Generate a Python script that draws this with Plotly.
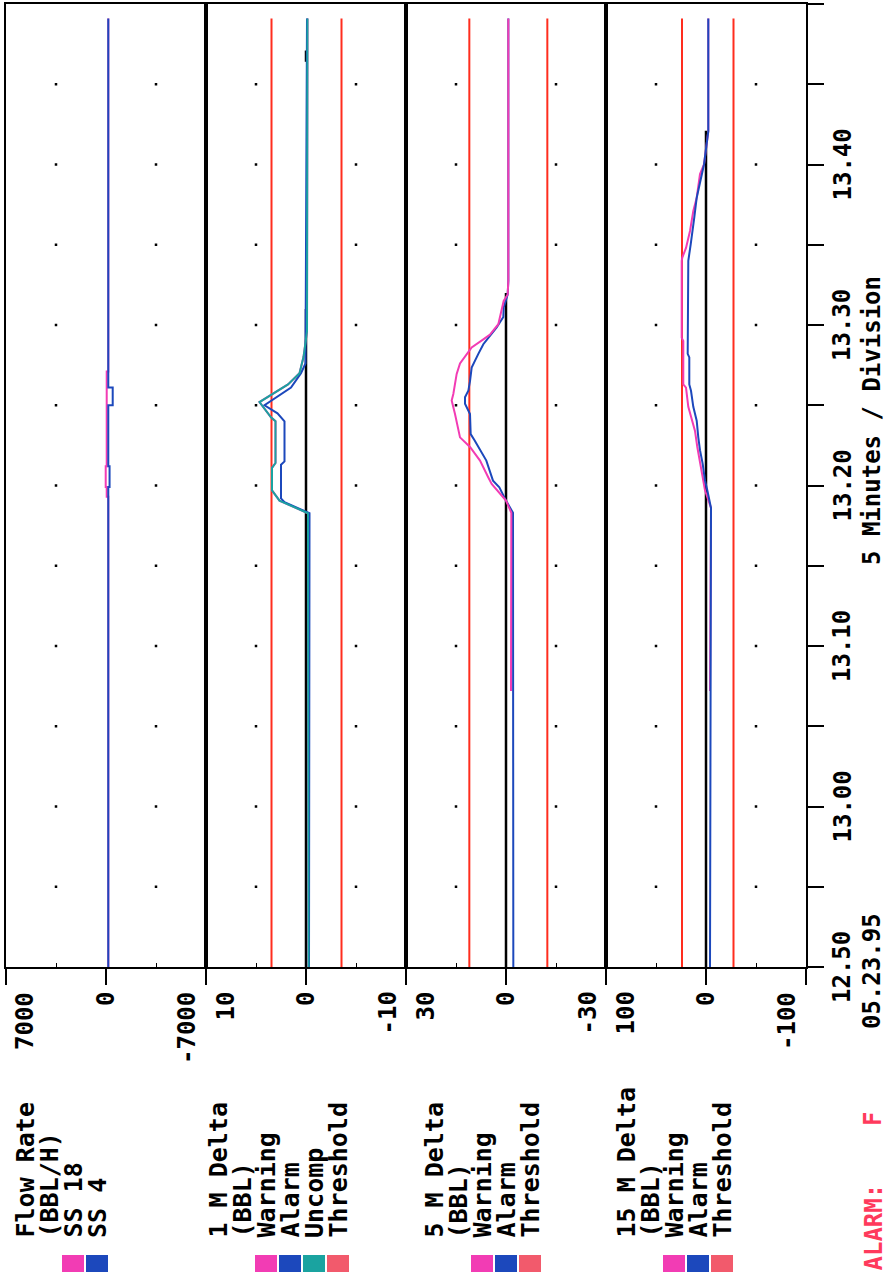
import plotly.graph_objects as go

# ---------------- data ----------------
# time axis: minutes after 12:50 (05.23.95), 5 minutes per division
TIME_TICKS = [0, 5, 10, 15, 20, 25, 30, 35, 40, 45, 50, 55, 60]
TIME_LABELS = ["12.50", "", "13.00", "", "13.10", "", "13.20", "", "13.30", "", "13.40", "", ""]
DATE_LABEL = "05.23.95"
DATA_END = 59.1

PANEL_MAX = [7000, 10, 30, 100]
VALUE_LABELS = [["7000", "0", "-7000"], ["10", "0", "-10"], ["30", "0", "-30"], ["100", "0", "-100"]]

# Flow Rate (BBL/H) - step traces
FLOW_T_SS18 = [0, 29.3, 29.9, 31.2, 37.1, 59.1]
FLOW_SS18 = [-160, -50, 20, -50, -160, -160]
FLOW_T_SS4 = [0, 29.9, 31.2, 35.0, 36.1, 59.1]
FLOW_SS4 = [-160, -250, -160, -470, -160, -160]

# 1 M Delta (BBL)
M1_T = [0, 28.27, 29.06, 29.7, 31.1, 31.4, 34.0, 34.25, 35.2, 35.7, 36.3, 37.0, 38.0, 39.6, 59.1]
M1_WARN = [-0.25, -0.2, 2.65, 3.4, 3.4, 3.05, 3.05, 3.5, 4.65, 3.3, 1.8, 0.65, 0.25, -0.1, -0.15]
M1_UNCOMP = [-0.25, -0.2, 2.65, 3.4, 3.4, 3.05, 3.05, 3.5, 4.65, 3.3, 1.8, 0.65, 0.25, -0.1, -0.15]
M1_T_ALARM = [0, 28.27, 28.96, 29.2, 31.3, 31.5, 34.0, 34.5, 35.0, 35.5, 36.1, 37.0, 37.6, 59.1]
M1_ALARM = [-0.3, -0.35, 2.15, 2.5, 2.5, 2.15, 2.15, 2.85, 4.15, 3.0, 1.5, 0.5, 0.05, -0.1]
M1_THRESH = [3.45, -3.55]
M1_ZERO_SPANS = [(0, 41.0), (56.4, 57.1)]

# 5 M Delta (BBL)
M5_T_WARN = [17.2, 28.3, 29.06, 30.1, 30.5, 31.55, 32.4, 33.0, 34.45, 35.3, 35.7, 36.95, 37.6,
             38.6, 39.1, 39.4, 40.05, 41.0, 41.5, 41.9, 42.75, 59.1]
M5_WARN = [-1.5, -1.6, 0, 4.3, 5.3, 7.8, 10.8, 13.8, 15.3, 16.3, 15.8, 14.8, 13.8,
           10.3, 6.8, 4.8, 2.3, 1.3, 0.7, -0.5, -0.7, -0.7]
M5_T_ALARM = [0, 17.2, 17.3, 28.3, 29.06, 29.89, 30.3, 31.55, 32.8, 33.2, 34.45, 35.1, 35.5, 35.9,
              36.5, 37.35, 38.2, 38.8, 39.2, 39.85, 40.5, 41.1, 41.9, 42.75, 59.1]
M5_ALARM = [-2.2, -2.2, -2.0, -2.1, 0, 2.0, 3.9, 5.9, 9.4, 10.6, 10.8, 12.3, 12.3, 11.3,
            10.8, 10.3, 8.3, 6.8, 5.3, 2.8, 0.8, 0.7, -0.5, -0.7, -0.7]
M5_THRESH = [11.0, -12.4]
M5_ZERO_SPANS = [(0, 42.0)]

# 15 M Delta (BBL)
M15_T_WARN = [17.2, 27.2, 28.6, 29.7, 31.35, 32.4, 33.4, 34.9, 36.1, 36.3, 39.0, 39.2, 44.0, 44.2,
              44.8, 45.86, 47.1, 47.93, 49.4, 50.0, 52.08, 59.1]
M15_WARN = [-4, -5, -5, 1, 6, 8.7, 11, 17.7, 20, 22.7, 22.7, 24.3, 24.3, 23.7,
            20, 16, 12.7, 9.3, 6, 2, -2.3, -2.3]
M15_T_ALARM = [0, 27.2, 28.6, 29.7, 30.3, 31.35, 32.2, 33.0, 34.04, 34.9, 35.9, 36.3, 37.98, 38.2,
               43.8, 44.0, 45.03, 45.86, 46.7, 47.93, 48.97, 50.0, 52.08, 59.1]
M15_ALARM = [-4, -5, -5, -1.3, 1, 3.3, 6, 7.7, 9.3, 12.7, 15, 16.7, 16.7, 18.3,
             18.3, 17.7, 15.3, 13.3, 11.7, 9.3, 6, 2, -2.3, -2.3]
M15_THRESH = [24.0, -27.5]
M15_ZERO_SPANS = [(0, 52.1)]

# ---------------- styling ----------------
FONT = "DejaVu Sans Mono"
PINK = "#f23cb4"
BLUE = "#1c48bc"
TEAL = "#1aa3a0"
RED = "#ff2d1e"
SALMON = "#f25a6c"
ALARM_RED = "#ff3a5c"

W, H = 886, 1278
ML, MR, MT, MB = 6, 80, 4, 311
PW, PH = W - ML - MR, H - MT - MB


def px(x):
    return (x - ML) / PW


def py(y):
    return (H - MB - y) / PH


fig = go.Figure()


def add_line(panel, t, v, color, width=2, shape="linear"):
    ax = "" if panel == 1 else str(panel)
    fig.add_trace(go.Scatter(x=v, y=t, mode="lines", line=dict(color=color, width=width, shape=shape),
                             xaxis="x" + ax, yaxis="y" + ax, showlegend=False, hoverinfo="skip"))


def add_zero(panel, spans):
    t, v = [], []
    for a, b in spans:
        t += [a, b, None]
        v += [0, 0, None]
    add_line(panel, t, v, "black", 2.5)


def add_thresh(panel, vals):
    for val in vals:
        add_line(panel, [0, DATA_END], [val, val], RED, 2)


# grid dots (every 5 minutes, at half range)
for i, m in enumerate(PANEL_MAX):
    ax = "" if i == 0 else str(i + 1)
    xs, ys = [], []
    for tt in TIME_TICKS[1:-1]:
        xs += [m / 2, -m / 2]
        ys += [tt, tt]
    fig.add_trace(go.Scatter(x=xs, y=ys, mode="markers", marker=dict(color="black", size=2.5, symbol="square"),
                             xaxis="x" + ax, yaxis="y" + ax, showlegend=False, hoverinfo="skip"))

# panel 1
add_line(1, FLOW_T_SS18, FLOW_SS18, PINK, 2, "vh")
add_line(1, FLOW_T_SS4, FLOW_SS4, BLUE, 2, "vh")
# panel 2
add_thresh(2, M1_THRESH)
add_zero(2, M1_ZERO_SPANS)
add_line(2, M1_T, M1_WARN, PINK)
add_line(2, M1_T_ALARM, M1_ALARM, BLUE)
add_line(2, M1_T, M1_UNCOMP, TEAL)
# panel 3
add_thresh(3, M5_THRESH)
add_zero(3, M5_ZERO_SPANS)
add_line(3, M5_T_ALARM, M5_ALARM, BLUE)
add_line(3, M5_T_WARN, M5_WARN, PINK)
# panel 4
add_thresh(4, M15_THRESH)
add_zero(4, M15_ZERO_SPANS)
add_line(4, M15_T_WARN, M15_WARN, PINK)
add_line(4, M15_T_ALARM, M15_ALARM, BLUE)

BOLD = "<b>%s</b>"

layout = dict(width=W, height=H, margin=dict(l=ML, r=MR, t=MT, b=MB, autoexpand=False), paper_bgcolor="white",
              plot_bgcolor="white", showlegend=False, font=dict(family=FONT, size=24, color="black"))

for i, m in enumerate(PANEL_MAX):
    ax = "" if i == 0 else str(i + 1)
    layout["xaxis" + ax] = dict(
        domain=[i * 0.25, (i + 1) * 0.25], range=[m, -m], anchor="y" + ax,
        showline=True, mirror=True, linecolor="black", linewidth=2,
        showgrid=False, zeroline=False, showticklabels=False,
        tickmode="array", tickvals=[m, 0, -m], ticks="outside", ticklen=16, tickwidth=2, tickcolor="black",
        minor=dict(tickmode="array", tickvals=[m / 2, -m / 2], ticks="inside", ticklen=4, tickwidth=1,
                   tickcolor="black", showgrid=False),
        fixedrange=True)
    ydef = dict(range=[0, 60], anchor="x" + ax, showline=True, mirror=True, linecolor="black", linewidth=2,
                showgrid=False, zeroline=False, fixedrange=True, showticklabels=False)
    if i > 0:
        ydef["matches"] = "y"
    if i == 3:
        ydef.update(side="right", tickmode="array", tickvals=TIME_TICKS,
                    ticks="outside", ticklen=16, tickwidth=2, tickcolor="black")
    else:
        ydef.update(ticks="")
    layout["yaxis" + ax] = ydef

fig.update_layout(**layout)

annotations = []


def rot(text, x, y, xref="paper", yref="paper", xshift=0, yanchor="middle", size=24, color="black"):
    annotations.append(dict(text=BOLD % text, x=x, y=y, xref=xref, yref=yref, xshift=xshift, showarrow=False,
                            textangle=-90, xanchor="center", yanchor=yanchor, borderpad=0,
                            font=dict(family=FONT, size=size, color=color)))


# time tick labels (right axis)
for tt, lab in zip(TIME_TICKS, TIME_LABELS):
    if lab:
        rot(lab, px(842), tt, yref="y4")

# value tick labels
for i, m in enumerate(PANEL_MAX):
    ax = "x" if i == 0 else "x" + str(i + 1)
    for val, lab, sh in zip([m, 0, -m], VALUE_LABELS[i], [19, 0, -19]):
        rot(lab, val, py(991), xref=ax, xshift=sh, yanchor="top")

# date and axis caption
rot(DATE_LABEL, px(872), py(971))
rot("5 Minutes / Division", px(872), py(421))
rot("ALARM:", px(873), py(1272), yanchor="bottom", color=ALARM_RED)
rot("F", px(873), py(1119), color=ALARM_RED)

# legend blocks
LEGEND = [
    (25, ["Flow Rate", "(BBL/H)", "SS 18", "SS 4"], [None, None, PINK, BLUE]),
    (218, ["1 M Delta", "(BBL)", "Warning", "Alarm", "Uncomp", "Threshold"], [None, None, PINK, BLUE, TEAL, SALMON]),
    (434, ["5 M Delta", "(BBL)", "Warning", "Alarm", "Threshold"], [None, None, PINK, BLUE, SALMON]),
    (626, ["15 M Delta", "(BBL)", "Warning", "Alarm", "Threshold"], [None, None, PINK, BLUE, SALMON]),
]
shapes = []
for x0, lines, cols in LEGEND:
    for k, (txt, c) in enumerate(zip(lines, cols)):
        xc = x0 + 24 * k
        rot(txt, px(xc), py(1239), yanchor="bottom", size=25)
        if c:
            shapes.append(dict(type="rect", xref="paper", yref="paper", x0=px(xc - 11), x1=px(xc + 11),
                               y0=py(1272), y1=py(1255), fillcolor=c, line=dict(width=0)))

fig.update_layout(annotations=annotations, shapes=shapes)
fig.write_html("out.html", config={"displayModeBar": False},
               post_script="document.body.style.margin='0px';")
